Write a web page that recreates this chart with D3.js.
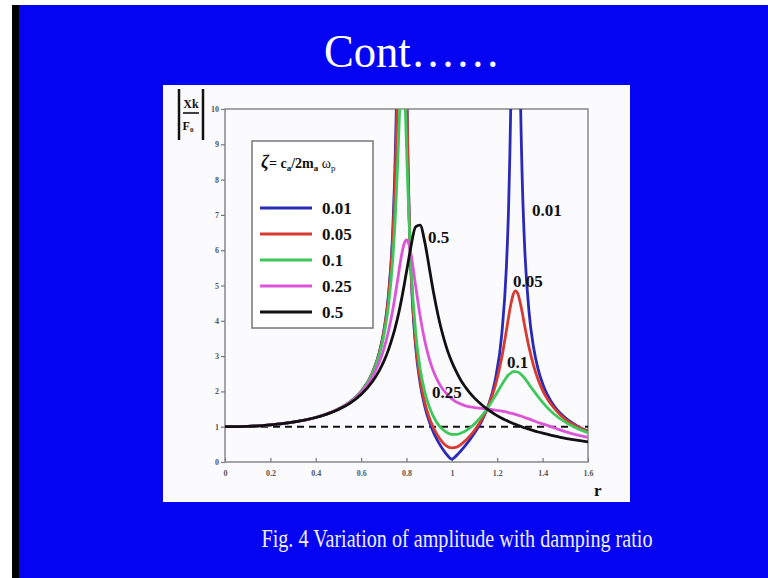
<!DOCTYPE html>
<html lang="en">
<head>
<meta charset="utf-8"/>
<title>Variation of amplitude with damping ratio</title>
<style>
body { margin: 0; background: #fff; }
svg { display: block; }
.axis .domain { display: none; }
.axis line { stroke: #777; stroke-width: 1.2; }
.axis text { font-family: "Liberation Serif", serif; font-size: 8px; font-weight: bold; fill: #555; }
.lbl { font-family: "Liberation Serif", serif; font-weight: bold; font-size: 17px; fill: #111; }
</style>
</head>
<body>
<svg width="768" height="578"></svg>
<script src="https://d3js.org/d3.v7.min.js"></script>
<script>

// frequency ratio r
var r = [0, 0.1, 0.2, 0.3, 0.4, 0.5, 0.55, 0.6, 0.65, 0.68, 0.7, 0.72, 0.74, 0.75, 0.76, 0.77, 0.78, 0.79, 0.8, 0.81,
         0.82, 0.84, 0.86, 0.88, 0.9, 0.92, 0.94, 0.96, 0.98, 1.0, 1.02, 1.04, 1.06, 1.08, 1.1, 1.13, 1.16, 1.19, 1.22, 1.24,
         1.25, 1.26, 1.27, 1.28, 1.29, 1.3, 1.31, 1.32, 1.34, 1.36, 1.38, 1.4, 1.45, 1.5, 1.55, 1.6];

// |Xk/F0| for each damping ratio (off-scale values estimated)
var zeta001 = [1, 1.01, 1.05, 1.13, 1.26, 1.5, 1.70, 2.0, 2.53, 3.10, 3.71, 4.70, 6.66, 8.59, 12.3, 22.7, 99.5, 24.9, 11.8, 7.51,
               5.39, 3.29, 2.23, 1.59, 1.15, 0.82, 0.57, 0.36, 0.19, 0.08, 0.18, 0.32, 0.47, 0.64, 0.82, 1.14, 1.59, 2.29, 3.62, 5.49,
               7.22, 10.3, 16.2, 23.7, 17.8, 11.3, 8.05, 6.21, 4.26, 3.25, 2.63, 2.22, 1.59, 1.25, 1.03, 0.87];
var zeta005 = [1, 1.01, 1.05, 1.13, 1.26, 1.5, 1.70, 2.0, 2.53, 3.08, 3.67, 4.62, 6.40, 8.0, 10.7, 15.6, 21.3, 16.9, 10.7, 7.36,
               5.43, 3.39, 2.34, 1.70, 1.26, 0.95, 0.72, 0.55, 0.44, 0.40, 0.42, 0.50, 0.61, 0.74, 0.90, 1.19, 1.58, 2.13, 2.96, 3.71,
               4.11, 4.47, 4.74, 4.85, 4.78, 4.55, 4.24, 3.89, 3.25, 2.73, 2.34, 2.03, 1.53, 1.21, 1.01, 0.86];
var zeta01  = [1, 1.01, 1.05, 1.13, 1.26, 1.5, 1.70, 2.0, 2.51, 3.04, 3.58, 4.40, 5.78, 6.85, 8.27, 10.0, 11.3, 10.8, 8.93, 7.01,
               5.54, 3.69, 2.65, 2.0, 1.57, 1.27, 1.06, 0.92, 0.83, 0.78, 0.78, 0.82, 0.88, 0.97, 1.08, 1.29, 1.55, 1.86, 2.19, 2.39,
               2.47, 2.52, 2.56, 2.56, 2.55, 2.51, 2.45, 2.38, 2.20, 2.02, 1.85, 1.69, 1.36, 1.13, 0.96, 0.83];
var zeta025 = [1, 1.01, 1.05, 1.13, 1.26, 1.5, 1.68, 1.97, 2.41, 2.83, 3.20, 3.69, 4.33, 4.71, 5.12, 5.54, 5.92, 6.19, 6.29, 6.18,
               5.88, 5.0, 4.14, 3.45, 2.93, 2.55, 2.27, 2.06, 1.91, 1.79, 1.70, 1.64, 1.59, 1.56, 1.54, 1.52, 1.50, 1.47, 1.44, 1.42,
               1.40, 1.38, 1.37, 1.35, 1.33, 1.31, 1.29, 1.26, 1.22, 1.17, 1.12, 1.08, 0.97, 0.86, 0.77, 0.70];
var zeta05  = [1, 1.01, 1.05, 1.13, 1.26, 1.49, 1.66, 1.91, 2.28, 2.59, 2.85, 3.17, 3.57, 3.80, 4.06, 4.35, 4.67, 5.02, 5.39, 5.76,
               6.12, 6.66, 6.71, 6.25, 5.52, 4.77, 4.13, 3.60, 3.17, 2.83, 2.55, 2.31, 2.12, 1.95, 1.81, 1.63, 1.48, 1.35, 1.24, 1.18,
               1.15, 1.12, 1.09, 1.07, 1.04, 1.02, 0.99, 0.97, 0.93, 0.89, 0.85, 0.82, 0.74, 0.67, 0.62, 0.57];

var ratioNames = ["0.01", "0.05", "0.1", "0.25", "0.5"];
var colors = ["#2a2ab8", "#d83a30", "#3ec85c", "#dc55d8", "#111111"];
var xTicks = [0, 0.2, 0.4, 0.6, 0.8, 1, 1.2, 1.4, 1.6];
var yTicks = [0, 1, 2, 3, 4, 5, 6, 7, 8, 9, 10];
// where the curve labels sit, in data units [r, value]
var labelPos = [[1.353, 6.97], [1.269, 4.96], [1.243, 2.66], [0.912, 1.81], [0.895, 6.2]];

var series = [zeta001, zeta005, zeta01, zeta025, zeta05];

var svg = d3.select("svg");

// slide background
svg.append("rect").attr("x", 12).attr("y", 5).attr("width", 756).attr("height", 573).attr("fill", "#0404f2");
svg.append("rect").attr("x", 12).attr("y", 5).attr("width", 7).attr("height", 573).attr("fill", "#000");

svg.append("text")
    .attr("x", 412).attr("y", 67)
    .attr("text-anchor", "middle")
    .attr("font-family", "Liberation Serif, serif")
    .attr("font-size", 46)
    .attr("textLength", 176)
    .attr("lengthAdjust", "spacingAndGlyphs")
    .attr("fill", "#fff")
    .text("Cont……");

svg.append("text")
    .attr("x", 457).attr("y", 547)
    .attr("text-anchor", "middle")
    .attr("font-family", "Liberation Serif, serif")
    .attr("font-size", 25)
    .attr("textLength", 391)
    .attr("lengthAdjust", "spacingAndGlyphs")
    .attr("fill", "#eef")
    .text("Fig. 4 Variation of amplitude with damping ratio");

// white figure panel
svg.append("rect").attr("x", 163).attr("y", 85).attr("width", 467).attr("height", 417).attr("fill", "#fbfbfd");

var x = d3.scaleLinear().domain([0, 1.6]).range([225, 588]);
var y = d3.scaleLinear().domain([0, 10]).range([462, 109]);

svg.append("clipPath").attr("id", "plotclip")
  .append("rect")
    .attr("x", x(0)).attr("y", y(10))
    .attr("width", x(1.6) - x(0)).attr("height", y(0) - y(10));

svg.append("g")
    .attr("class", "axis")
    .attr("transform", "translate(0," + y(0) + ")")
    .call(d3.axisBottom(x).tickValues(xTicks).tickSize(-4).tickPadding(8).tickFormat(function(d) { return d; }));

svg.append("g")
    .attr("class", "axis")
    .attr("transform", "translate(" + x(0) + ",0)")
    .call(d3.axisLeft(y).tickValues(yTicks).tickSize(4).tickPadding(2).tickFormat(function(d) { return d; }));

// frame
svg.append("rect")
    .attr("x", x(0)).attr("y", y(10))
    .attr("width", x(1.6) - x(0)).attr("height", y(0) - y(10))
    .attr("fill", "none").attr("stroke", "#888").attr("stroke-width", 1.5);

var plot = svg.append("g").attr("clip-path", "url(#plotclip)");

// static deflection reference
plot.append("line")
    .attr("x1", x(0)).attr("x2", x(1.6))
    .attr("y1", y(1)).attr("y2", y(1))
    .attr("stroke", "#111").attr("stroke-width", 2).attr("stroke-dasharray", "7,5");

var line = d3.line()
    .x(function(d, i) { return x(r[i]); })
    .y(function(d) { return y(d); })
    .curve(d3.curveMonotoneX);

plot.selectAll("path.curve")
  .data(series)
  .enter().append("path")
    .attr("class", "curve")
    .attr("d", line)
    .attr("fill", "none")
    .attr("stroke", function(d, i) { return colors[i]; })
    .attr("stroke-width", 2.8);

// labels on the curves
svg.selectAll("text.cl")
  .data(ratioNames)
  .enter().append("text")
    .attr("class", "lbl cl")
    .attr("x", function(d, i) { return x(labelPos[i][0]); })
    .attr("y", function(d, i) { return y(labelPos[i][1]); })
    .text(function(d) { return d; });

// legend
var legend = svg.append("g").attr("transform", "translate(252,141)");
legend.append("rect")
    .attr("width", 121).attr("height", 187)
    .attr("fill", "#fff").attr("stroke", "#777").attr("stroke-width", 1.5);

var lt = legend.append("text")
    .attr("x", 9).attr("y", 27)
    .attr("font-family", "Liberation Serif, serif")
    .attr("font-weight", "bold")
    .attr("font-size", 14)
    .attr("fill", "#111");
lt.append("tspan").attr("font-style", "italic").attr("font-size", 18).text("ζ");
lt.append("tspan").text("= c");
lt.append("tspan").attr("font-size", 9).attr("dy", 3).text("a");
lt.append("tspan").attr("dy", -3).text("/2m");
lt.append("tspan").attr("font-size", 9).attr("dy", 3).text("a");
lt.append("tspan").attr("dy", -3).attr("font-weight", "normal").text(" ω");
lt.append("tspan").attr("font-size", 9).attr("dy", 3).attr("font-weight", "normal").text("p");

var items = legend.selectAll("g.item")
  .data(ratioNames)
  .enter().append("g")
    .attr("class", "item")
    .attr("transform", function(d, i) { return "translate(0," + (67 + i * 26) + ")"; });

items.append("line")
    .attr("x1", 8).attr("x2", 60)
    .attr("stroke", function(d, i) { return colors[i]; })
    .attr("stroke-width", 3);

items.append("text")
    .attr("class", "lbl")
    .attr("x", 70).attr("y", 6)
    .text(function(d) { return d; });

// y label |Xk / F0|
var yl = svg.append("g");
yl.append("line").attr("x1", 179).attr("x2", 179).attr("y1", 89).attr("y2", 140).attr("stroke", "#111").attr("stroke-width", 2.5);
yl.append("line").attr("x1", 203).attr("x2", 203).attr("y1", 89).attr("y2", 140).attr("stroke", "#111").attr("stroke-width", 2.5);
yl.append("line").attr("x1", 183).attr("x2", 199).attr("y1", 113).attr("y2", 113).attr("stroke", "#111").attr("stroke-width", 1.6);
yl.append("text").attr("x", 191).attr("y", 108).attr("text-anchor", "middle")
    .attr("font-family", "Liberation Serif, serif").attr("font-weight", "bold").attr("font-size", 12).attr("fill", "#111")
    .text("Xk");
var f0 = yl.append("text").attr("x", 188).attr("y", 130).attr("text-anchor", "middle")
    .attr("font-family", "Liberation Serif, serif").attr("font-weight", "bold").attr("font-size", 12).attr("fill", "#111");
f0.append("tspan").text("F");
f0.append("tspan").attr("font-size", 7).attr("dy", 2).text("0");

svg.append("text")
    .attr("class", "lbl")
    .attr("x", 594).attr("y", 496)
    .attr("font-size", 18)
    .text("r");

</script>
</body>
</html>
